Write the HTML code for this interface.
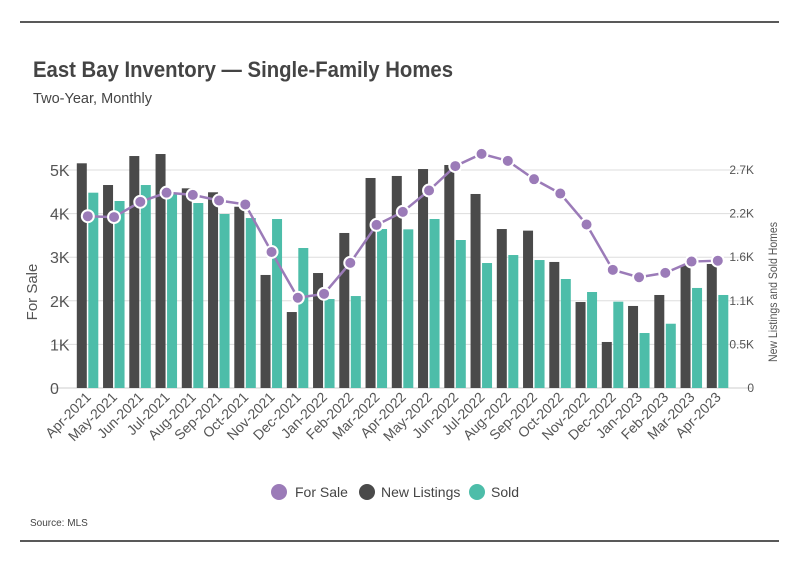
<!DOCTYPE html>
<html><head><meta charset="utf-8"><style>
body{margin:0;background:#fff;}
svg{display:block;font-family:"Liberation Sans",sans-serif;}
</style></head><body>
<svg id="chart" width="799" height="575" viewBox="0 0 799 575" xmlns="http://www.w3.org/2000/svg">
<line x1="20" y1="22" x2="779" y2="22" stroke="#222" stroke-width="1.5"/>
<line x1="20" y1="541" x2="779" y2="541" stroke="#222" stroke-width="1.5"/>
<text x="33" y="77" font-size="22" font-weight="bold" fill="#444" textLength="420" lengthAdjust="spacingAndGlyphs">East Bay Inventory — Single-Family Homes</text>
<text x="33" y="103" font-size="15" fill="#444" textLength="119" lengthAdjust="spacingAndGlyphs">Two-Year, Monthly</text>
<text transform="translate(37,292) rotate(-90)" text-anchor="middle" font-size="15" fill="#555">For Sale</text>
<text transform="translate(777,292) rotate(-90)" text-anchor="middle" font-size="12" fill="#555" textLength="140" lengthAdjust="spacingAndGlyphs">New Listings and Sold Homes</text>
<g id="grid"></g><g id="bars"></g><g id="line"></g><g id="axes"></g>
<g>
<circle cx="279" cy="492" r="8" fill="#9b7bb8"/>
<text x="295" y="497" font-size="14" fill="#444">For Sale</text>
<circle cx="367" cy="492" r="8" fill="#4a4a4a"/>
<text x="381" y="497" font-size="14" fill="#444">New Listings</text>
<circle cx="477" cy="492" r="8" fill="#4dbda9"/>
<text x="491" y="497" font-size="14" fill="#444">Sold</text>
</g>
<text x="30" y="526" font-size="10" fill="#444">Source:  MLS</text>
</svg>
<script>
const months=["Apr-2021","May-2021","Jun-2021","Jul-2021","Aug-2021","Sep-2021","Oct-2021","Nov-2021","Dec-2021","Jan-2022","Feb-2022","Mar-2022","Apr-2022","May-2022","Jun-2022","Jul-2022","Aug-2022","Sep-2022","Oct-2022","Nov-2022","Dec-2022","Jan-2023","Feb-2023","Mar-2023","Apr-2023"];
const forSale=[3940,3920,4270,4480,4430,4300,4210,3120,2070,2160,2870,3740,4040,4530,5090,5370,5210,4790,4460,3750,2710,2540,2640,2900,2920];
const newListings=[2783,2514,2873,2898,2473,2424,2245,1400,941,1424,1920,2601,2626,2712,2762,2403,1969,1949,1561,1065,570,1016,1152,1523,1536];
const sold=[2419,2316,2514,2403,2291,2155,2105,2093,1734,1102,1139,1969,1965,2093,1833,1548,1647,1585,1350,1189,1069,681,796,1239,1152];
const leftTicks=["0","1K","2K","3K","4K","5K"];
const rightTicks=["0","0.5K","1.1K","1.6K","2.2K","2.7K"];
const NS="http://www.w3.org/2000/svg";
const y0=388,yTop=170,leftMax=5000,rightMax=2700;
const yL=v=>y0-(v/leftMax)*(y0-yTop);
const yR=v=>y0-(v/rightMax)*(y0-yTop);
const xC=i=>87.8+i*26.25;
function mk(tag,parent,attrs){const e=document.createElementNS(NS,tag);for(const k in attrs)e.setAttribute(k,attrs[k]);document.getElementById(parent).appendChild(e);return e;}
for(let k=0;k<6;k++){
 const y=y0-k*(y0-yTop)/5;
 const g=mk("line","grid",{x1:51,x2:752,y1:y,y2:y,stroke:k==0?"#ccc":"#ddd","stroke-width":1});
 
 
 const t=mk("text","axes",{x:50,y:y+6,"font-size":16,fill:"#555"});t.textContent=leftTicks[k];
 
 
 const r=mk("text","axes",{x:754,y:y+4,"font-size":12,fill:"#555","text-anchor":"end"});r.textContent=rightTicks[k];
 
 
}
months.forEach((m,i)=>{
 const c=xC(i);
 const b1=mk("rect","bars",{x:c-11,y:yR(newListings[i]),width:10,height:y0-yR(newListings[i]),fill:"#4a4a4a"});
 
 
 const b2=mk("rect","bars",{x:c+0.5,y:yR(sold[i]),width:10,height:y0-yR(sold[i]),fill:"#4dbda9"});
 
 
 const t=mk("text","axes",{transform:`translate(${c+4},398) rotate(-45)`,"text-anchor":"end","font-size":14,fill:"#555"});t.textContent=m;
 
 
});
const pts=forSale.map((v,i)=>xC(i)+","+yL(v)).join(" ");
const pl=mk("polyline","line",{points:pts,fill:"none",stroke:"#9b7bb8","stroke-width":2.5});


forSale.forEach((v,i)=>{
 const p=mk("circle","line",{cx:xC(i),cy:yL(v),r:6,fill:"#9b7bb8",stroke:"#fff","stroke-width":2});
 
 
});
</script>
</body></html>
